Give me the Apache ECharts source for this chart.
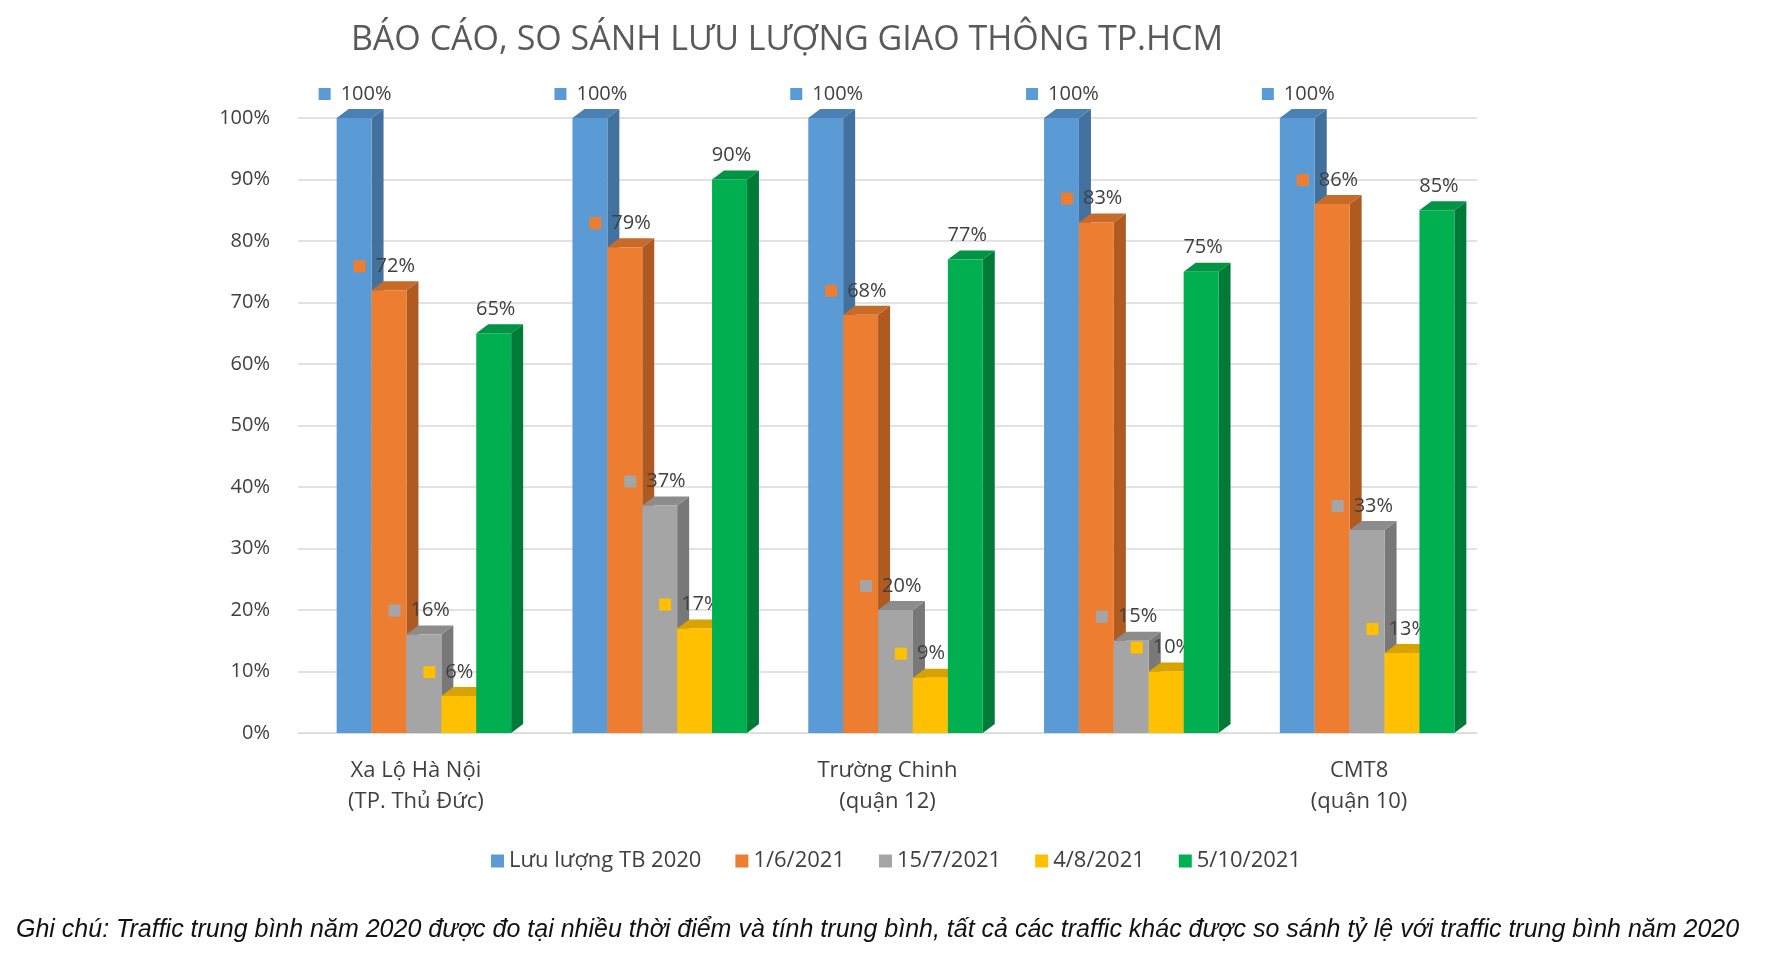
<!DOCTYPE html>
<html><head><meta charset="utf-8">
<script src="https://cdn.jsdelivr.net/npm/echarts@6/dist/echarts.min.js"></script>
<style>html,body{margin:0;background:#fff}#c{width:1792px;height:955px}</style>
</head><body><div id="c"></div>
<script>
const categories = ['Xa Lộ Hà Nội\n(TP. Thủ Đức)','Bạch Đằng\n(quận Bình Thạnh)','Trường Chinh\n(quận 12)','Nam Kỳ Khởi Nghĩa\n(quận 1,3)','CMT8\n(quận 10)'];
const seriesNames = ['Lưu lượng TB 2020','1/6/2021','15/7/2021','4/8/2021','5/10/2021'];
const tb2020 = [100,100,100,100,100];
const d0106 = [72,79,68,83,86];
const d1507 = [16,37,20,15,33];
const d0408 = [6,17,9,10,13];
const d0510 = [65,90,77,75,85];
const colors = ['#5b9bd5','#ed7d31','#a5a5a5','#ffc000','#00b050'];
const sides = ['#41719c','#ae5a21','#787878','#bc8c00','#007a37'];
const tops = ['#4a80b3','#c86a28','#8c8c8c','#d8a200','#009444'];
const allData = [tb2020,d0106,d1507,d0408,d0510];

const chart = echarts.init(document.getElementById('c'));
const series = allData.map((arr,si)=>({
  type:'custom', name:seriesNames[si], itemStyle:{color:colors[si]},
  data: arr.map((v,i)=>[i,v]),
  renderItem:(params,api)=>{
    const ci=api.value(0), v=api.value(1);
    const p=api.coord([ci,v]), p0=api.coord([ci,0]);
    const band=api.size([1,0])[0];
    const bw=band*0.148, dx=12, dy=-9;
    const x=p[0]+(si-2.5)*bw+8, y=p[1], yb=p0[1];
    const ch=[
      {type:'polygon',shape:{points:[[x+bw,y],[x+bw+dx,y+dy],[x+bw+dx,yb+dy],[x+bw,yb]]},style:{fill:sides[si]}},
      {type:'polygon',shape:{points:[[x,y],[x+dx,y+dy],[x+bw+dx,y+dy],[x+bw,y]]},style:{fill:tops[si]}},
      {type:'rect',shape:{x:x,y:y,width:bw,height:yb-y},style:{fill:colors[si]}}
    ];
    if(si===4){
      ch.push({type:'text',style:{x:x+bw/2+2,y:y-24,text:v+'%',fill:'#404040',font:'20px "Open Sans", sans-serif',align:'center',verticalAlign:'middle'}});
    } else {
      ch.push({type:'rect',shape:{x:x-18,y:y-30,width:12,height:12},style:{fill:colors[si]}});
      ch.push({type:'text',style:{x:x+4,y:y-24,text:v+'%',fill:'#404040',font:'20px "Open Sans", sans-serif',verticalAlign:'middle'}});
    }
    return {type:'group',children:ch};
  }
}));
chart.setOption({
  animation:false,
  color:colors,
  title:{text:'BÁO CÁO, SO SÁNH LƯU LƯỢNG GIAO THÔNG TP.HCM',left:782,top:18,textAlign:'center',
    textStyle:{fontSize:34,fontWeight:'normal',color:'#595959',fontFamily:'Open Sans'}},
  grid:{left:298,right:315,top:118,bottom:222},
  xAxis:{type:'category',data:categories,axisTick:{show:false},
    axisLine:{lineStyle:{color:'#d9d9d9'}},
    axisLabel:{fontSize:22,color:'#404040',lineHeight:31,margin:22,fontFamily:'Open Sans'}},
  yAxis:{type:'value',min:0,max:100,interval:10,
    axisLabel:{formatter:'{value}%',fontSize:20,color:'#404040',margin:28,fontFamily:'Open Sans'},
    splitLine:{lineStyle:{color:'#d9d9d9',width:1.5}}},
  legend:{bottom:78,left:'center',itemWidth:13,itemHeight:13,itemGap:34,icon:'rect',
    textStyle:{fontSize:22,color:'#404040',fontFamily:'Open Sans'}},
  series:series,
  graphic:[{type:'text',left:16,top:918,style:{text:'Ghi chú: Traffic trung bình năm 2020 được đo tại nhiều thời điểm và tính trung bình, tất cả các traffic khác được so sánh tỷ lệ với traffic trung bình năm 2020',
    font:'italic 25px "Liberation Sans", Arial, sans-serif',fill:'#111'}}]
});
</script></body></html>
